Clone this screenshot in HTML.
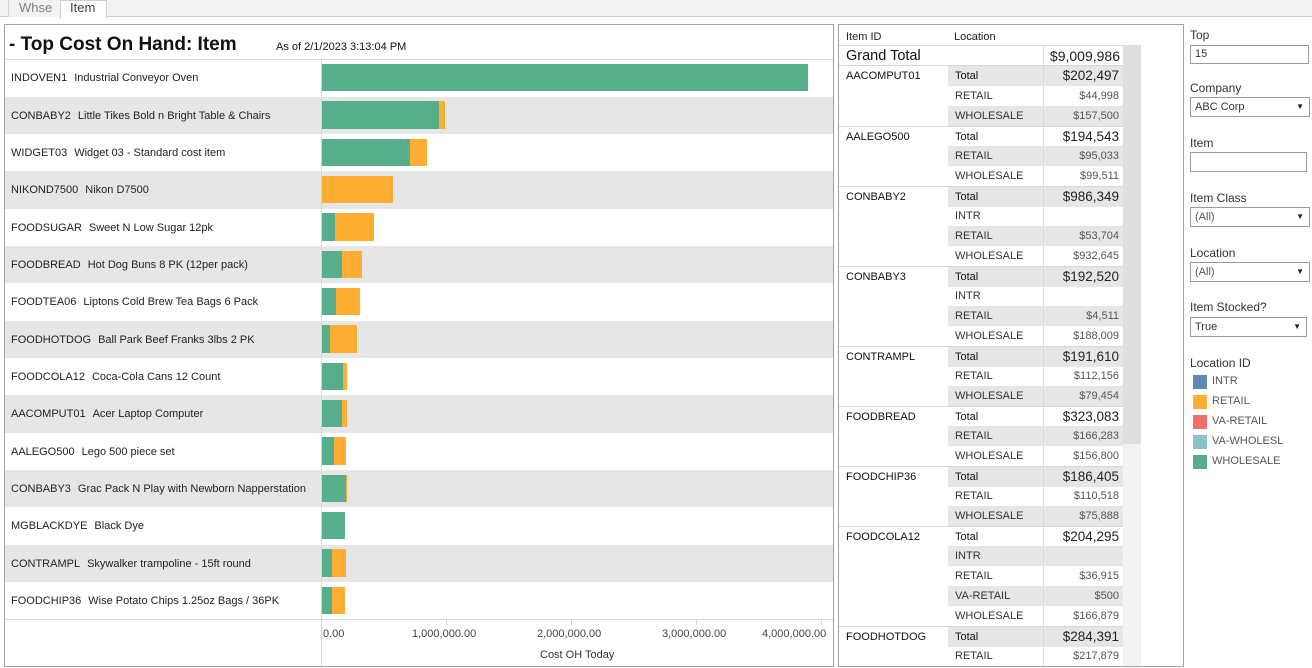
<!DOCTYPE html>
<html><head><meta charset="utf-8">
<style>
*{margin:0;padding:0;box-sizing:border-box}
html,body{width:1312px;height:668px;overflow:hidden;background:#fff;font-family:"Liberation Sans",Arial,sans-serif;color:#333}
.a{position:absolute}
.t{position:absolute;white-space:nowrap}
.row{position:absolute;left:5px;width:828px;height:37.33px}
.g{background:#e6e6e6}
.lbl{position:absolute;left:6px;top:1px;font-size:11px;color:#222;line-height:37px;white-space:nowrap}
.lbl b{font-weight:normal;margin-right:7px}
.bar{position:absolute;height:27.7px}
.gr{background:#57ae8a}
.or{background:#ffae34}
.tick{position:absolute;top:620px;width:1px;height:5px;background:#d4d4d4}
.tl{position:absolute;top:628px;font-size:11px;color:#444;white-space:nowrap}
.tr{position:absolute;left:839px;width:284px;height:20px}
.tr .id{position:absolute;left:7px;top:0;line-height:20px;font-size:11px;color:#111}
.tr .loc{position:absolute;left:109px;width:95px;top:0;height:20px;line-height:20px;font-size:11px;color:#333;padding-left:7px}
.tr .val{position:absolute;left:205px;width:79px;top:0;height:20px;line-height:20px;font-size:11px;color:#555;text-align:right;padding-right:4px}
.tr.tot .loc{color:#111}
.tr.tot .val{font-size:13.5px;color:#222}
.tr.sh .loc,.tr.sh .val{background:#e6e6e6}
.tr.grp{border-top:1px solid #d6d6d6}
.ctl{position:absolute;left:1190px;font-size:12px;color:#333;white-space:nowrap}
.box{position:absolute;left:1190px;border:1px solid #9a9a9a;background:#fff;font-size:11px;color:#333;padding-left:4px;line-height:18px}
.box .ar{position:absolute;right:5px;top:0;font-size:8px;color:#222}
.sw{position:absolute;left:1193px;width:14px;height:14px}
.lg{position:absolute;left:1212px;font-size:11px;color:#555;white-space:nowrap}
</style></head><body>

<!-- tab bar -->
<div class="a" style="left:0;top:0;width:1312px;height:17px;background:#f2f2f2;border-bottom:1px solid #cfcfcf"></div>
<div class="a" style="left:8px;top:0;width:53px;height:17px;border-left:1px solid #d4d4d4;border-right:1px solid #d4d4d4;background:#f2f2f2"></div>
<div class="t" style="left:19px;top:0;font-size:13px;line-height:16px;color:#808080">Whse</div>
<div class="a" style="left:60px;top:0;width:47px;height:18px;border:1px solid #cfcfcf;border-bottom:none;background:#fff"></div>
<div class="t" style="left:70px;top:0;font-size:13px;line-height:16px;color:#444">Item</div>

<!-- chart panel -->
<div class="a" style="left:4px;top:24px;width:830px;height:643px;border:1px solid #a3a3a3"></div>
<div class="t" style="left:9px;top:33px;font-size:19px;font-weight:bold;color:#111;line-height:24px">- Top Cost On Hand: Item</div>
<div class="t" style="left:276px;top:40px;font-size:11px;color:#111;line-height:14px">As of 2/1/2023 3:13:04 PM</div>
<div class="a" style="left:5px;top:58.5px;width:828px;height:1px;background:#dcdcdc"></div>

<div class="row" style="top:59.3px"><div class="lbl"><b>INDOVEN1</b>Industrial Conveyor Oven</div></div>
<div class="row g" style="top:96.6px"><div class="lbl"><b>CONBABY2</b>Little Tikes Bold n Bright Table &amp; Chairs</div></div>
<div class="row" style="top:134px"><div class="lbl"><b>WIDGET03</b>Widget 03 - Standard cost item</div></div>
<div class="row g" style="top:171.3px"><div class="lbl"><b>NIKOND7500</b>Nikon D7500</div></div>
<div class="row" style="top:208.6px"><div class="lbl"><b>FOODSUGAR</b>Sweet N Low Sugar 12pk</div></div>
<div class="row g" style="top:246px"><div class="lbl"><b>FOODBREAD</b>Hot Dog Buns 8 PK (12per pack)</div></div>
<div class="row" style="top:283.3px"><div class="lbl"><b>FOODTEA06</b>Liptons Cold Brew Tea Bags 6 Pack</div></div>
<div class="row g" style="top:320.6px"><div class="lbl"><b>FOODHOTDOG</b>Ball Park Beef Franks 3lbs 2 PK</div></div>
<div class="row" style="top:358px"><div class="lbl"><b>FOODCOLA12</b>Coca-Cola Cans 12 Count</div></div>
<div class="row g" style="top:395.3px"><div class="lbl"><b>AACOMPUT01</b>Acer Laptop Computer</div></div>
<div class="row" style="top:432.6px"><div class="lbl"><b>AALEGO500</b>Lego 500 piece set</div></div>
<div class="row g" style="top:470px"><div class="lbl"><b>CONBABY3</b>Grac Pack N Play with Newborn Napperstation</div></div>
<div class="row" style="top:507.3px"><div class="lbl"><b>MGBLACKDYE</b>Black Dye</div></div>
<div class="row g" style="top:544.6px"><div class="lbl"><b>CONTRAMPL</b>Skywalker trampoline - 15ft round</div></div>
<div class="row" style="top:582px"><div class="lbl"><b>FOODCHIP36</b>Wise Potato Chips 1.25oz Bags / 36PK</div></div>

<!-- axis lines -->
<div class="a" style="left:321px;top:59px;width:1px;height:607px;background:#d6d6d6"></div>
<div class="a" style="left:5px;top:619px;width:828px;height:1px;background:#d6d6d6"></div>

<!-- bars -->
<div class="bar gr" style="left:322px;top:63.8px;width:486px"></div>
<div class="bar gr" style="left:322px;top:101.1px;width:116.6px"></div><div class="bar or" style="left:438.6px;top:101.1px;width:6.7px"></div>
<div class="bar gr" style="left:322px;top:138.5px;width:88px"></div><div class="bar or" style="left:410px;top:138.5px;width:17px"></div>
<div class="bar or" style="left:322px;top:175.8px;width:71px"></div>
<div class="bar gr" style="left:322px;top:213.1px;width:13px"></div><div class="bar or" style="left:335px;top:213.1px;width:39px"></div>
<div class="bar gr" style="left:322px;top:250.5px;width:19.6px"></div><div class="bar or" style="left:341.6px;top:250.5px;width:20.2px"></div>
<div class="bar gr" style="left:322px;top:287.8px;width:14px"></div><div class="bar or" style="left:336px;top:287.8px;width:24px"></div>
<div class="bar gr" style="left:322px;top:325.1px;width:7.5px"></div><div class="bar or" style="left:329.5px;top:325.1px;width:27.5px"></div>
<div class="bar gr" style="left:322px;top:362.5px;width:20.5px"></div><div class="bar or" style="left:342.5px;top:362.5px;width:4.8px"></div>
<div class="bar gr" style="left:322px;top:399.8px;width:19.7px"></div><div class="bar or" style="left:341.7px;top:399.8px;width:5.6px"></div>
<div class="bar gr" style="left:322px;top:437.1px;width:12.4px"></div><div class="bar or" style="left:334.4px;top:437.1px;width:11.9px"></div>
<div class="bar gr" style="left:322px;top:474.5px;width:23.5px"></div><div class="bar or" style="left:345.5px;top:474.5px;width:0.8px"></div>
<div class="bar gr" style="left:322px;top:511.8px;width:23px"></div>
<div class="bar gr" style="left:322px;top:549.1px;width:10px"></div><div class="bar or" style="left:332px;top:549.1px;width:14px"></div>
<div class="bar gr" style="left:322px;top:586.5px;width:9.5px"></div><div class="bar or" style="left:331.5px;top:586.5px;width:13.8px"></div>

<!-- ticks -->
<div class="tick" style="left:446px"></div>
<div class="tick" style="left:571px"></div>
<div class="tick" style="left:696px"></div>
<div class="tick" style="left:821px"></div>
<div class="tl" style="left:323px">0.00</div>
<div class="tl" style="left:412px">1,000,000.00</div>
<div class="tl" style="left:537px">2,000,000.00</div>
<div class="tl" style="left:662px">3,000,000.00</div>
<div class="tl" style="left:762px">4,000,000.00</div>
<div class="tl" style="left:540px;top:649px;color:#333">Cost OH Today</div>

<!-- table panel -->
<div class="a" style="left:838px;top:24px;width:346px;height:643px;border:1px solid #a3a3a3"></div>
<div class="a" style="left:1123px;top:45px;width:18px;height:621px;background:#f3f3f3"></div>
<div class="a" style="left:1123px;top:45px;width:18px;height:399px;background:#dedede"></div>
<div class="t" style="left:846px;top:30px;font-size:11px;color:#222;line-height:14px">Item ID</div>
<div class="t" style="left:954px;top:30px;font-size:11px;color:#222;line-height:14px">Location</div>
<div class="a" style="left:839px;top:45px;width:284px;height:1px;background:#d6d6d6"></div>
<div class="t" style="left:846px;top:46px;font-size:14.5px;color:#111;line-height:20px">Grand Total</div>
<div class="t" style="left:1043px;width:77px;top:46px;font-size:14px;color:#222;line-height:20px;text-align:right">$9,009,986</div>
<div class="a" style="left:839px;top:65px;width:284px;height:1px;background:#d6d6d6"></div>

<div class="tr tot sh" style="top:65.7px"><div class="id">AACOMPUT01</div><div class="loc">Total</div><div class="val">$202,497</div></div>
<div class="tr" style="top:85.7px"><div class="loc">RETAIL</div><div class="val">$44,998</div></div>
<div class="tr sh" style="top:105.7px"><div class="loc">WHOLESALE</div><div class="val">$157,500</div></div>

<div class="tr tot grp" style="top:125.7px"><div class="id">AALEGO500</div><div class="loc">Total</div><div class="val">$194,543</div></div>
<div class="tr sh" style="top:145.7px"><div class="loc">RETAIL</div><div class="val">$95,033</div></div>
<div class="tr" style="top:165.7px"><div class="loc">WHOLESALE</div><div class="val">$99,511</div></div>

<div class="tr tot sh grp" style="top:185.7px"><div class="id">CONBABY2</div><div class="loc">Total</div><div class="val">$986,349</div></div>
<div class="tr" style="top:205.7px"><div class="loc">INTR</div><div class="val"></div></div>
<div class="tr sh" style="top:225.7px"><div class="loc">RETAIL</div><div class="val">$53,704</div></div>
<div class="tr" style="top:245.7px"><div class="loc">WHOLESALE</div><div class="val">$932,645</div></div>

<div class="tr tot sh grp" style="top:265.7px"><div class="id">CONBABY3</div><div class="loc">Total</div><div class="val">$192,520</div></div>
<div class="tr" style="top:285.7px"><div class="loc">INTR</div><div class="val"></div></div>
<div class="tr sh" style="top:305.7px"><div class="loc">RETAIL</div><div class="val">$4,511</div></div>
<div class="tr" style="top:325.7px"><div class="loc">WHOLESALE</div><div class="val">$188,009</div></div>

<div class="tr tot sh grp" style="top:345.7px"><div class="id">CONTRAMPL</div><div class="loc">Total</div><div class="val">$191,610</div></div>
<div class="tr" style="top:365.7px"><div class="loc">RETAIL</div><div class="val">$112,156</div></div>
<div class="tr sh" style="top:385.7px"><div class="loc">WHOLESALE</div><div class="val">$79,454</div></div>

<div class="tr tot grp" style="top:405.7px"><div class="id">FOODBREAD</div><div class="loc">Total</div><div class="val">$323,083</div></div>
<div class="tr sh" style="top:425.7px"><div class="loc">RETAIL</div><div class="val">$166,283</div></div>
<div class="tr" style="top:445.7px"><div class="loc">WHOLESALE</div><div class="val">$156,800</div></div>

<div class="tr tot sh grp" style="top:465.7px"><div class="id">FOODCHIP36</div><div class="loc">Total</div><div class="val">$186,405</div></div>
<div class="tr" style="top:485.7px"><div class="loc">RETAIL</div><div class="val">$110,518</div></div>
<div class="tr sh" style="top:505.7px"><div class="loc">WHOLESALE</div><div class="val">$75,888</div></div>

<div class="tr tot grp" style="top:525.7px"><div class="id">FOODCOLA12</div><div class="loc">Total</div><div class="val">$204,295</div></div>
<div class="tr sh" style="top:545.7px"><div class="loc">INTR</div><div class="val"></div></div>
<div class="tr" style="top:565.7px"><div class="loc">RETAIL</div><div class="val">$36,915</div></div>
<div class="tr sh" style="top:585.7px"><div class="loc">VA-RETAIL</div><div class="val">$500</div></div>
<div class="tr" style="top:605.7px"><div class="loc">WHOLESALE</div><div class="val">$166,879</div></div>

<div class="tr tot sh grp" style="top:625.7px"><div class="id">FOODHOTDOG</div><div class="loc">Total</div><div class="val">$284,391</div></div>
<div class="tr" style="top:645.7px;height:20px;overflow:hidden"><div class="loc">RETAIL</div><div class="val">$217,879</div></div>

<div class="a" style="left:1043px;top:45px;width:1px;height:621px;background:#dadada"></div>

<!-- controls -->
<div class="ctl" style="top:28px">Top</div>
<div class="box" style="top:45px;width:119px;height:19px;line-height:17px">15</div>
<div class="ctl" style="top:81px">Company</div>
<div class="box" style="top:97px;width:120px;height:20px">ABC Corp<span class="ar">&#9660;</span></div>
<div class="ctl" style="top:136px">Item</div>
<div class="box" style="top:152px;width:117px;height:20px"></div>
<div class="ctl" style="top:191px">Item Class</div>
<div class="box" style="top:207px;width:120px;height:20px;color:#555">(All)<span class="ar">&#9660;</span></div>
<div class="ctl" style="top:246px">Location</div>
<div class="box" style="top:262px;width:120px;height:20px;color:#555">(All)<span class="ar">&#9660;</span></div>
<div class="ctl" style="top:300px">Item Stocked?</div>
<div class="box" style="top:317px;width:117px;height:20px">True<span class="ar">&#9660;</span></div>
<div class="ctl" style="top:356px">Location ID</div>
<div class="sw" style="top:375px;background:#6388b4"></div><div class="lg" style="top:375px">INTR</div>
<div class="sw" style="top:395px;background:#ffae34"></div><div class="lg" style="top:395px">RETAIL</div>
<div class="sw" style="top:415px;background:#ef6f6a"></div><div class="lg" style="top:415px">VA-RETAIL</div>
<div class="sw" style="top:435px;background:#8cc2ca"></div><div class="lg" style="top:435px">VA-WHOLESL</div>
<div class="sw" style="top:455px;background:#55ad89"></div><div class="lg" style="top:455px">WHOLESALE</div>

</body></html>
